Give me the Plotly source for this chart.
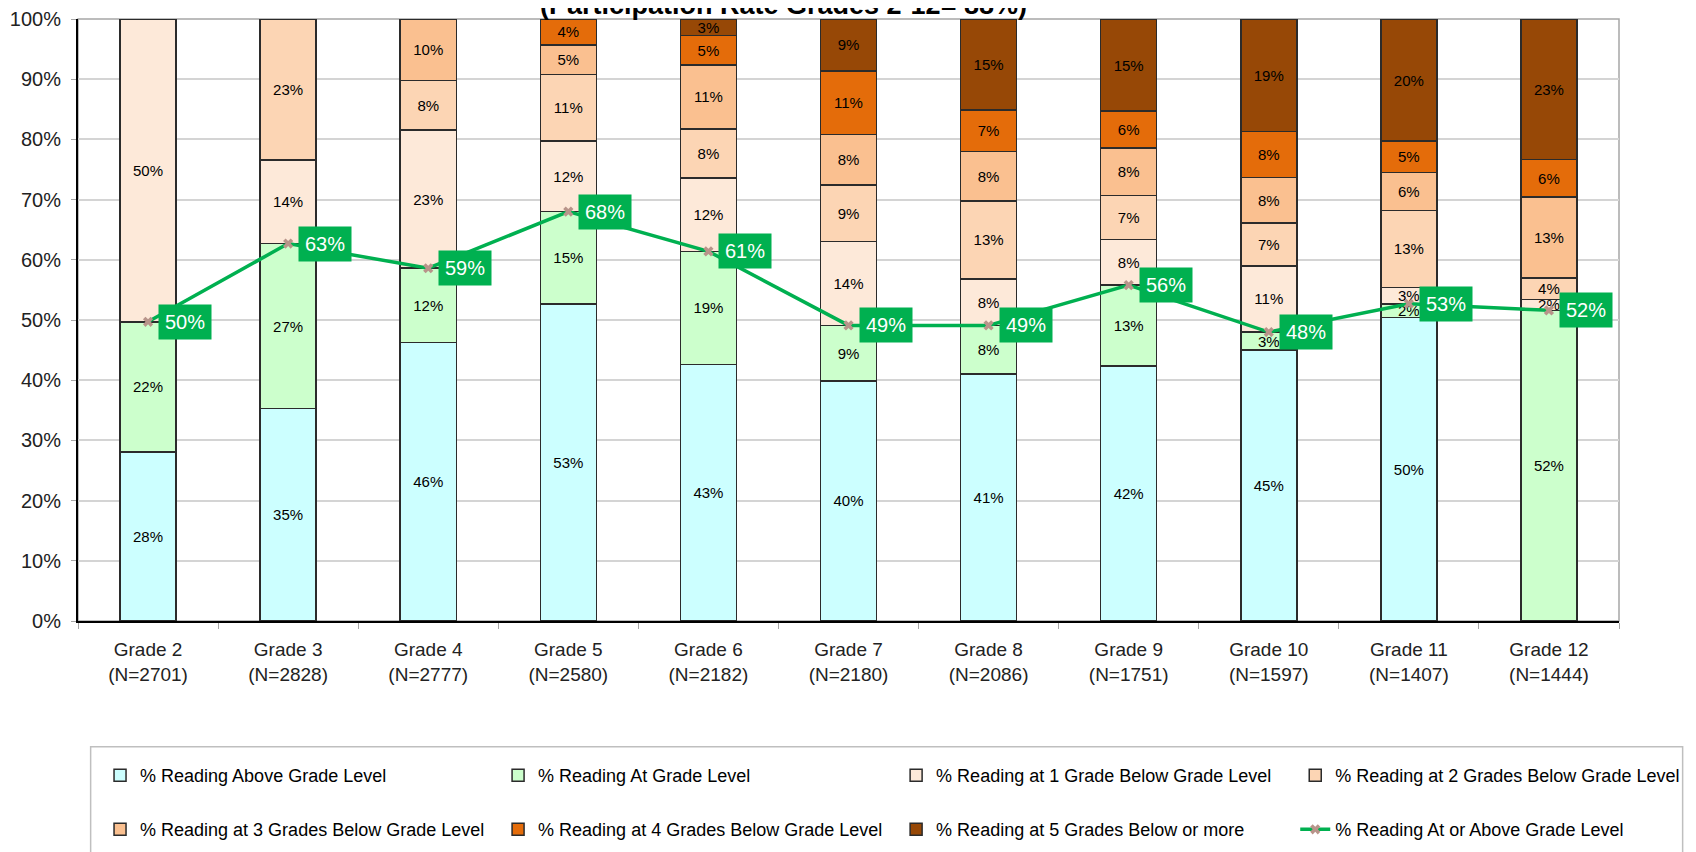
"""
Stacked reading-level distribution per grade, with the
"% Reading At or Above Grade Level" line on top.
"""

import plotly.graph_objects as go

# ------------------------------------------------------------------
# Data (percent of students per grade)
# ------------------------------------------------------------------
GRADES = [
    "Grade 2<br>(N=2701)", "Grade 3<br>(N=2828)", "Grade 4<br>(N=2777)",
    "Grade 5<br>(N=2580)", "Grade 6<br>(N=2182)", "Grade 7<br>(N=2180)",
    "Grade 8<br>(N=2086)", "Grade 9<br>(N=1751)", "Grade 10<br>(N=1597)",
    "Grade 11<br>(N=1407)", "Grade 12<br>(N=1444)",
]
ABOVE = [28.1, 35.3, 46.3, 52.7, 42.6, 39.9, 41.0, 42.4, 45.0, 50.4, None]
AT = [21.6, 27.4, 12.3, 15.3, 18.8, 9.2, 8.1, 13.4, 3.0, 2.3, 51.6]
BELOW_1 = [50.3, 13.9, 23.0, 11.7, 12.2, 13.9, 7.7, 7.6, 11.0, 2.7, 1.8]
BELOW_2 = [None, 23.4, 8.2, 11.1, 8.1, 9.4, 13.0, 7.3, 7.1, 12.8, 3.6]
BELOW_3 = [None, None, 10.2, 4.9, 10.7, 8.4, 8.2, 7.9, 7.6, 6.3, 13.4]
BELOW_4 = [None, None, None, 4.3, 4.9, 10.6, 6.9, 6.1, 7.6, 5.2, 6.3]
BELOW_5 = [None, None, None, None, 2.7, 8.6, 15.1, 15.3, 18.7, 20.3, 23.3]
AT_OR_ABOVE = [49.7, 62.7, 58.6, 68.0, 61.4, 49.1, 49.1, 55.8, 48.0, 52.7, 51.6]

SERIES = [
    ("% Reading Above Grade Level", ABOVE, "#CCFFFF"),
    ("% Reading At Grade Level", AT, "#CCFFCC"),
    ("% Reading at 1 Grade Below Grade Level", BELOW_1, "#FDE9D9"),
    ("% Reading at 2 Grades Below Grade Level", BELOW_2, "#FCD5B4"),
    ("% Reading at 3 Grades Below Grade Level", BELOW_3, "#FAC090"),
    ("% Reading at 4 Grades Below Grade Level", BELOW_4, "#E46C0A"),
    ("% Reading at 5 Grades Below or more", BELOW_5, "#974806"),
]

TITLE = "(Participation Rate Grades 2-12= 88%)"
FONT = "Liberation Sans, Arial, sans-serif"
LINE_GREEN = "#00B050"

# legend grid: 4 columns x 2 rows, one small legend per entry
LEGEND_COLS = [0.0143, 0.2726, 0.5309, 0.7899]
LEGEND_ROWS = [-0.2566, -0.3465]


def legend_id(i: int) -> str:
    return "legend" if i == 0 else f"legend{i + 1}"


def create_figure() -> go.Figure:
    fig = go.Figure()

    for i, (name, values, color) in enumerate(SERIES):
        fig.add_trace(go.Bar(
            name=name, x=GRADES, y=values, legend=legend_id(i),
            marker=dict(color=color, line=dict(color="#2b2b2b", width=1.5)),
            texttemplate="%{y:.0f}%", textposition="inside",
            insidetextanchor="middle", constraintext="none",
            textfont=dict(family=FONT, size=15, color="black"),
            hoverinfo="skip",
        ))

    fig.add_trace(go.Scatter(
        name="% Reading At or Above Grade Level", x=GRADES, y=AT_OR_ABOVE,
        mode="lines+markers", legend=legend_id(len(SERIES)),
        line=dict(color=LINE_GREEN, width=3.5),
        marker=dict(symbol="x", size=9, color="#B8948A"),
    ))

    # green value boxes next to the line markers
    for grade, value in zip(GRADES, AT_OR_ABOVE):
        fig.add_annotation(
            x=grade, y=value, text=f"{value:.0f}%", showarrow=False,
            xanchor="left", yanchor="middle", xshift=10,
            bgcolor=LINE_GREEN, borderpad=6,
            font=dict(family=FONT, size=20, color="white"),
        )

    fig.add_annotation(
        text=f"<b>{TITLE}</b>", xref="paper", yref="paper", x=0.458, y=1,
        xanchor="center", yanchor="bottom", yshift=-3, showarrow=False,
        font=dict(family=FONT, size=27, color="black"),
    )

    # plot-area border and legend box
    fig.add_shape(type="rect", xref="paper", yref="paper", x0=0, x1=1, y0=0, y1=1,
                  line=dict(color="#A6A6A6", width=1.5), layer="below")
    fig.add_shape(type="rect", xref="paper", yref="paper",
                  x0=0.0082, x1=1.0413, y0=-0.2088, y1=-0.45,
                  line=dict(color="#BFBFBF", width=1.5))

    legends = {}
    for i in range(len(SERIES) + 1):
        legends[legend_id(i)] = dict(
            orientation="h", xanchor="left", yanchor="middle",
            x=LEGEND_COLS[i % 4], y=LEGEND_ROWS[i // 4],
            font=dict(family=FONT, size=18, color="black"),
            bgcolor="rgba(0,0,0,0)", itemclick=False,
        )

    fig.update_layout(
        width=1688, height=844,
        margin=dict(l=70, r=77, t=11, b=231, autoexpand=False),
        paper_bgcolor="white", plot_bgcolor="white",
        barmode="stack", bargap=0.6,
        showlegend=True,
        xaxis=dict(
            range=[-0.5, len(GRADES) - 0.5],
            showline=True, linecolor="black", linewidth=2,
            ticks="outside", tickson="boundaries", ticklen=6,
            tickcolor="#A6A6A6", showgrid=False, ticklabelstandoff=10,
            tickfont=dict(family=FONT, size=19, color="#222222"),
        ),
        yaxis=dict(
            range=[0, 100], dtick=10, ticksuffix="%",
            showline=True, linecolor="black", linewidth=2,
            ticks="outside", ticklen=5, tickcolor="#A6A6A6",
            showgrid=True, gridcolor="#D4D4D4", gridwidth=1.5,
            zeroline=False, ticklabelstandoff=6,
            tickfont=dict(family=FONT, size=20, color="#222222"),
        ),
        **legends,
    )
    return fig


fig = create_figure()
fig.write_html("out.html")
